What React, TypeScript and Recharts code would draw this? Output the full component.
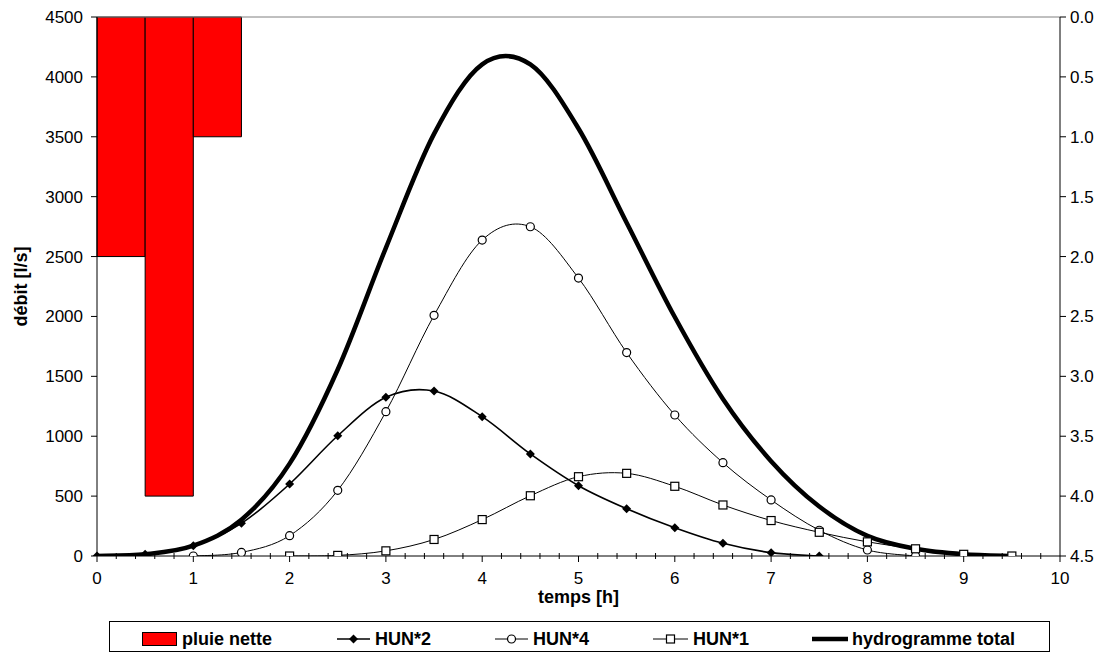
import React from "react";
import {
  ComposedChart,
  Line,
  XAxis,
  YAxis,
  ReferenceArea,
  ReferenceLine,
  Label,
} from "recharts";

// time steps [h]
const TIME = [0, 0.5, 1, 1.5, 2, 2.5, 3, 3.5, 4, 4.5, 5, 5.5, 6, 6.5, 7, 7.5, 8, 8.5, 9, 9.5];

// débit [l/s] per series (null = no point)
const HUN2 = [0, 14, 86, 273, 601, 1004, 1325, 1377, 1163, 852, 587, 395, 236, 106, 28, 0, null, null, null, null];
const HUN4 = [null, null, 0, 30, 170, 548, 1205, 2009, 2638, 2749, 2320, 1698, 1177, 779, 468, 215, 50, 0, null, null];
const HUN1 = [null, null, null, null, 0, 5, 43, 138, 304, 503, 662, 690, 582, 426, 296, 198, 118, 60, 14, 0];
const TOTAL = [0, 14, 86, 303, 771, 1557, 2573, 3524, 4105, 4104, 3569, 2783, 1995, 1311, 792, 413, 168, 60, 14, 0];

// pluie nette (right axis, reversed)
const RAIN_FROM = [0, 0.5, 1];
const RAIN_TO = [0.5, 1, 1.5];
const RAIN = [2.0, 4.0, 1.0];

const X_TICKS = [0, 1, 2, 3, 4, 5, 6, 7, 8, 9, 10];
const Y_TICKS = [0, 500, 1000, 1500, 2000, 2500, 3000, 3500, 4000, 4500];
const RAIN_TICKS = [0, 0.5, 1, 1.5, 2, 2.5, 3, 3.5, 4, 4.5];

const FONT = '"Liberation Sans", Arial, sans-serif';

// major ticks plus 4 minor subdivisions
const X_ALL_TICKS = X_TICKS.flatMap((t, i) =>
  i === X_TICKS.length - 1 ? [t] : [t, t + 0.2, t + 0.4, t + 0.6, t + 0.8]
);

const data = TIME.map((t, i) => ({
  t,
  hun2: HUN2[i],
  hun4: HUN4[i],
  hun1: HUN1[i],
  total: TOTAL[i],
}));

// Excel-like smoothed line (Catmull-Rom bezier)
const smoothCurve = (context: any) => {
  let pts: number[][] = [];
  return {
    areaStart() {},
    areaEnd() {},
    lineStart() {
      pts = [];
    },
    point(x: number, y: number) {
      pts.push([+x, +y]);
    },
    lineEnd() {
      const n = pts.length;
      if (!n) return;
      context.moveTo(pts[0][0], pts[0][1]);
      for (let i = 0; i < n - 1; i++) {
        const p0 = pts[Math.max(i - 1, 0)];
        const p1 = pts[i];
        const p2 = pts[i + 1];
        const p3 = pts[Math.min(i + 2, n - 1)];
        context.bezierCurveTo(
          p1[0] + (p2[0] - p0[0]) / 6,
          p1[1] + (p2[1] - p0[1]) / 6,
          p2[0] - (p3[0] - p1[0]) / 6,
          p2[1] - (p3[1] - p1[1]) / 6,
          p2[0],
          p2[1]
        );
      }
    },
  };
};

const diamondDot = (p: any) => {
  if (p.cy == null || p.value == null) return <g key={p.index} />;
  const r = 4.5;
  return (
    <path
      key={p.index}
      d={`M${p.cx},${p.cy - r}L${p.cx + r},${p.cy}L${p.cx},${p.cy + r}L${p.cx - r},${p.cy}Z`}
      fill="#000"
    />
  );
};

const circleDot = (p: any) => {
  if (p.cy == null || p.value == null) return <g key={p.index} />;
  return <circle key={p.index} cx={p.cx} cy={p.cy} r={4} fill="#fff" stroke="#000" strokeWidth={1.2} />;
};

const squareDot = (p: any) => {
  if (p.cy == null || p.value == null) return <g key={p.index} />;
  return (
    <rect key={p.index} x={p.cx - 4} y={p.cy - 4} width={8} height={8} fill="#fff" stroke="#000" strokeWidth={1.2} />
  );
};

const XTick = ({ x, y, payload }: any) => {
  const v = payload.value;
  const major = Math.abs(v - Math.round(v)) < 1e-6;
  return (
    <g>
      <line x1={x} x2={x} y1={major ? y : y - 3} y2={major ? y + 6 : y + 3} stroke="#000" />
      {major && (
        <text x={x} y={y + 28} textAnchor="middle" fontSize={17} fill="#000" fontFamily={FONT}>
          {Math.round(v)}
        </text>
      )}
    </g>
  );
};

const ChartLegend = () => (
  <svg
    width={942}
    height={32}
    style={{ position: "absolute", left: 109, top: 621 }}
    fontFamily={FONT}
    fontWeight="bold"
    fontSize={18}
  >
    <rect x={0.5} y={0.5} width={940} height={30} fill="#fff" stroke="#000" />
    <rect x={33.5} y={11.5} width={34} height={13} fill="#ff0000" stroke="#000" />
    <text x={73} y={24}>pluie nette</text>
    <line x1={228} x2={261} y1={18} y2={18} stroke="#000" strokeWidth={1.5} />
    <path d="M244.5,13.5L249,18L244.5,22.5L240,18Z" fill="#000" />
    <text x={266} y={24}>HUN*2</text>
    <line x1={386} x2={419} y1={18} y2={18} stroke="#000" />
    <circle cx={402.5} cy={18} r={4} fill="#fff" stroke="#000" strokeWidth={1.2} />
    <text x={424} y={24}>HUN*4</text>
    <line x1={544} x2={579} y1={18} y2={18} stroke="#000" />
    <rect x={557.5} y={14} width={8} height={8} fill="#fff" stroke="#000" strokeWidth={1.2} />
    <text x={584} y={24}>HUN*1</text>
    <line x1={703} x2={739} y1={18} y2={18} stroke="#000" strokeWidth={4.5} />
    <text x={743} y={24}>hydrogramme total</text>
  </svg>
);

const App = () => (
  <div style={{ position: "relative", width: 1100, height: 652, background: "#fff", fontFamily: FONT }}>
    <style>{"body{margin:0}"}</style>
    <ComposedChart
      width={1100}
      height={652}
      data={data}
      margin={{ top: 17, right: 0, bottom: 46, left: 0 }}
    >
      <XAxis
        dataKey="t"
        type="number"
        domain={[0, 10]}
        ticks={X_ALL_TICKS}
        interval={0}
        tickSize={0}
        tickMargin={0}
        tickLine={false}
        axisLine={{ stroke: "#000" }}
        tick={(props: any) => <XTick {...props} />}
        height={50}
      >
        <Label
          content={({ viewBox }: any) => (
            <text
              x={viewBox.x + viewBox.width / 2}
              y={viewBox.y + 47}
              textAnchor="middle"
              fontSize={18}
              fontWeight="bold"
              fontFamily={FONT}
              fill="#000"
            >
              temps [h]
            </text>
          )}
        />
      </XAxis>
      <YAxis
        yAxisId="left"
        domain={[0, 4500]}
        allowDataOverflow
        ticks={Y_TICKS}
        interval={0}
        width={97}
        tickSize={6}
        tickMargin={8}
        axisLine={{ stroke: "#000" }}
        tickLine={{ stroke: "#000" }}
        tick={{ fill: "#000", fontSize: 17, fontFamily: FONT }}
      >
        <Label
          content={({ viewBox }: any) => (
            <text
              x={21}
              y={viewBox.y + viewBox.height / 2}
              transform={`rotate(-90 21 ${viewBox.y + viewBox.height / 2})`}
              textAnchor="middle"
              dominantBaseline="central"
              fontSize={18}
              fontWeight="bold"
              fontFamily={FONT}
              fill="#000"
            >
              débit [l/s]
            </text>
          )}
        />
      </YAxis>
      <YAxis
        yAxisId="right"
        orientation="right"
        type="number"
        reversed
        domain={[0, 4.5]}
        allowDataOverflow
        ticks={RAIN_TICKS}
        interval={0}
        width={40}
        tickSize={6}
        tickMargin={4}
        axisLine={{ stroke: "#000" }}
        tickLine={{ stroke: "#000" }}
        tickFormatter={(v: number) => v.toFixed(1)}
        tick={{ fill: "#000", fontSize: 17, fontFamily: FONT }}
      />
      <ReferenceLine yAxisId="left" y={4500} stroke="#808080" />
      {RAIN.map((r, i) => (
        <ReferenceArea
          key={`rain-${i}`}
          yAxisId="right"
          x1={RAIN_FROM[i]}
          x2={RAIN_TO[i]}
          y1={0}
          y2={r}
          fill="#ff0000"
          fillOpacity={1}
          stroke="#000"
          strokeWidth={1}
          ifOverflow="visible"
        />
      ))}
      <Line
        yAxisId="left"
        dataKey="total"
        type={smoothCurve as any}
        stroke="#000"
        strokeWidth={4.5}
        dot={false}
        activeDot={false}
        isAnimationActive={false}
      />
      <Line
        yAxisId="left"
        dataKey="hun4"
        type={smoothCurve as any}
        stroke="#000"
        strokeWidth={1}
        dot={circleDot}
        activeDot={false}
        isAnimationActive={false}
      />
      <Line
        yAxisId="left"
        dataKey="hun1"
        type={smoothCurve as any}
        stroke="#000"
        strokeWidth={1}
        dot={squareDot}
        activeDot={false}
        isAnimationActive={false}
      />
      <Line
        yAxisId="left"
        dataKey="hun2"
        type={smoothCurve as any}
        stroke="#000"
        strokeWidth={1.6}
        dot={diamondDot}
        activeDot={false}
        isAnimationActive={false}
      />
    </ComposedChart>
    <ChartLegend />
  </div>
);

export default App;
